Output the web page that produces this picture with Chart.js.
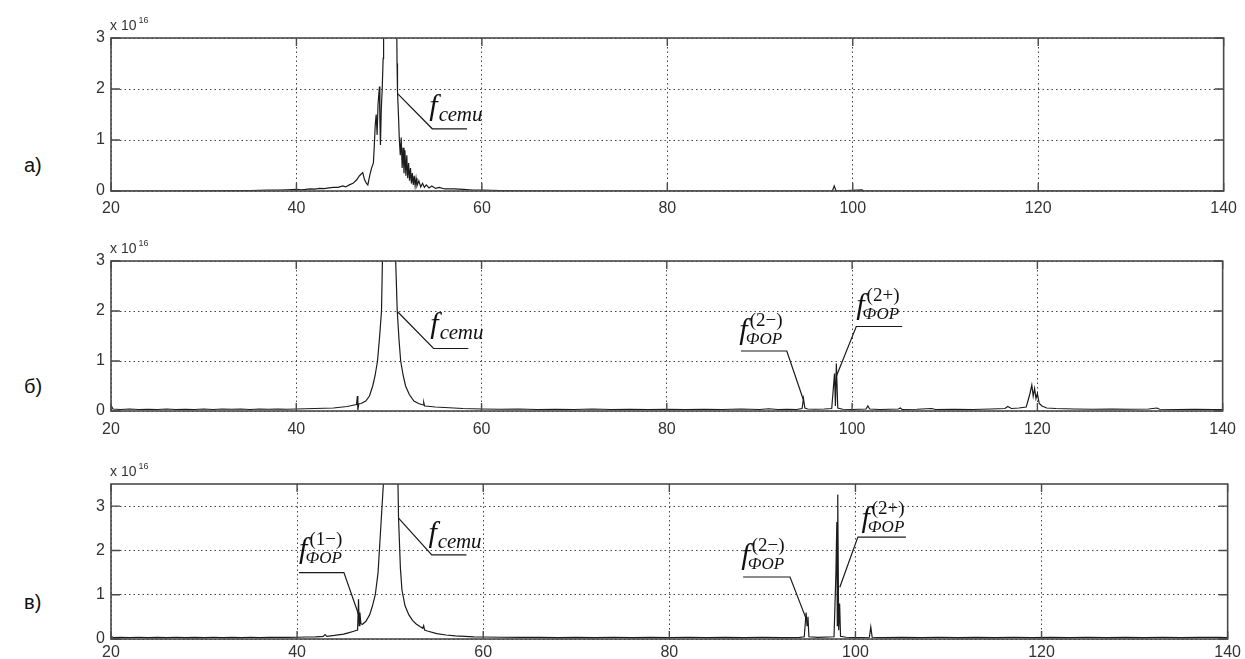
<!DOCTYPE html>
<html>
<head>
<meta charset="utf-8">
<script src="https://cdn.jsdelivr.net/npm/chart.js@4.4.0/dist/chart.umd.min.js"></script>
<style>
  html, body { margin: 0; padding: 0; background: #fff; }
  body { width: 1245px; height: 659px; position: relative; overflow: hidden; }
  canvas { position: absolute; left: 0; }
  .tag { position: absolute; left: 24px; font: 20px "Liberation Sans", Arial, sans-serif; color: #111; }
</style>
</head>
<body>
<div class="tag" style="top:154px">а)</div>
<div class="tag" style="top:375px">б)</div>
<div class="tag" style="top:591px">в)</div>
<canvas id="chartA" width="1245" height="221" style="top:0"></canvas>
<canvas id="chartB" width="1245" height="216" style="top:225px"></canvas>
<canvas id="chartC" width="1245" height="214" style="top:445px"></canvas>
<script>
// spectra, amplitude in units of 1e16, pairs [frequency, amplitude]
var spectrumA = [
  [20,0],[25,0],[30,0.005],[35,0.01],[37,0.02],[38,0.02],[39,0.025],[40,0.03],[40.5,0.025],[41,0.03],
  [41.5,0.04],[42,0.035],[42.5,0.05],[43,0.045],[43.5,0.06],[44,0.07],[44.5,0.07],[45,0.1],[45.3,0.08],
  [45.7,0.12],[46.1,0.15],[46.5,0.22],[46.8,0.3],[47.15,0.36],[47.35,0.22],[47.55,0.15],[47.7,0.12],
  [47.9,0.3],[48.1,0.45],[48.3,0.55],[48.4,0.9],[48.5,1.3],[48.6,1.5],[48.7,1.1],[48.8,1.7],[48.95,2.05],
  [49.0,1.4],[49.06,0.9],[49.15,1.6],[49.25,2.0],[49.35,2.6],[49.4,3.1],[49.7,12],[50.1,30],[50.5,12],
  [50.8,3.6],[50.85,2.5],[50.9,1.95],[51.0,1.5],[51.1,1.0],[51.2,0.7],[51.3,1.05],[51.4,0.45],[51.5,0.85],
  [51.6,0.35],[51.7,0.8],[51.8,0.3],[51.9,0.7],[52.0,0.25],[52.1,0.55],[52.2,0.2],[52.3,0.45],[52.4,0.15],
  [52.5,0.35],[52.6,0.12],[52.7,0.3],[52.8,0.1],[52.9,0.25],[53.0,0.1],[53.2,0.2],[53.4,0.08],[53.6,0.15],
  [53.8,0.07],[54.0,0.12],[54.3,0.06],[54.6,0.1],[55.0,0.05],[55.4,0.07],[56,0.04],[57,0.04],[58,0.03],
  [59,0.02],[60,0.02],[61,0.015],[62,0.01],[64,0.005],[70,0],[90,0],[97.8,0],[98,0.1],[98.2,0],
  [101,0.02],[101.2,0],[140,0]
];
var spectrumB = [
  [20,0.12],[20.2,0.04],[21,0.03],[22,0.04],[23,0.03],[24,0.035],[25,0.03],[26,0.04],[27,0.03],[28,0.035],
  [29,0.03],[30,0.04],[31,0.03],[32,0.04],[33,0.035],[34,0.04],[35,0.03],[36,0.04],[37,0.035],[38,0.04],
  [39,0.035],[40,0.04],[41,0.045],[42,0.05],[43,0.055],[44,0.06],[45,0.08],[45.5,0.09],[46,0.11],
  [46.5,0.13],[46.6,0.3],[46.65,0.02],[46.75,0.14],[47.0,0.15],[47.5,0.2],[47.9,0.3],[48.25,0.5],
  [48.5,0.7],[48.77,1.0],[49.0,1.5],[49.2,2.0],[49.3,3.0],[49.6,8],[50.0,25],[50.45,8],[50.73,3.0],
  [50.9,2.0],[51.1,1.4],[51.27,1.0],[51.55,0.7],[51.8,0.5],[52.2,0.33],[52.7,0.2],[53.2,0.15],[53.7,0.12],
  [53.76,0.17],[53.85,0.1],[54.5,0.09],[55,0.08],[56,0.07],[57,0.06],[58,0.05],[59,0.045],[60,0.04],
  [62,0.035],[64,0.04],[66,0.03],[68,0.035],[70,0.03],[72,0.04],[74,0.03],[76,0.035],[78,0.03],[80,0.035],
  [82,0.03],[84,0.035],[86,0.03],[88,0.04],[90,0.03],[91,0.045],[92,0.03],[93,0.035],[94,0.03],
  [94.6,0.05],[94.75,0.25],[94.9,0.06],[95.2,0.04],[96,0.035],[97,0.04],[97.8,0.05],[98.1,0.75],
  [98.2,0.1],[98.3,0.95],[98.45,0.06],[99,0.035],[100,0.03],[101.5,0.04],[101.7,0.1],[101.9,0.04],
  [103,0.03],[105,0.04],[105.2,0.06],[105.4,0.03],[107,0.035],[108.6,0.05],[109,0.03],[111,0.035],
  [113,0.03],[115,0.04],[116.5,0.05],[116.8,0.09],[117.2,0.05],[118,0.06],[118.8,0.08],[119.2,0.35],
  [119.4,0.52],[119.55,0.3],[119.7,0.45],[119.85,0.25],[120.0,0.35],[120.2,0.15],[120.5,0.1],[121,0.06],
  [122,0.05],[124,0.04],[126,0.035],[128,0.04],[130,0.035],[132,0.04],[132.9,0.06],[133.2,0.035],
  [135,0.03],[137,0.035],[139,0.03],[140,0.03]
];
var spectrumC = [
  [20,0.06],[20.3,0.03],[21,0.035],[22,0.03],[23,0.04],[24,0.03],[25,0.035],[26,0.03],[27,0.04],[28,0.03],
  [29,0.035],[30,0.03],[31,0.04],[32,0.03],[33,0.035],[34,0.03],[35,0.04],[36,0.03],[37,0.035],[38,0.04],
  [39,0.035],[40,0.04],[41,0.045],[42,0.05],[42.8,0.06],[43,0.1],[43.2,0.06],[44,0.08],[45,0.11],
  [45.5,0.14],[46,0.17],[46.5,0.2],[46.6,0.9],[46.67,0.3],[46.75,0.6],[46.85,0.35],[47,0.33],[47.4,0.4],
  [47.8,0.55],[48.1,0.75],[48.4,1.0],[48.7,1.5],[48.9,2.2],[49.1,2.9],[49.3,3.6],[49.6,10],[50.05,30],
  [50.5,10],[50.84,3.5],[50.9,2.73],[51.1,1.6],[51.27,1.1],[51.6,0.75],[52,0.55],[52.4,0.42],[52.8,0.34],
  [53.2,0.28],[53.5,0.24],[53.6,0.3],[53.7,0.2],[54,0.18],[55,0.12],[56,0.09],[57,0.07],[58,0.06],
  [59,0.05],[60,0.045],[62,0.04],[64,0.035],[66,0.04],[68,0.03],[70,0.035],[72,0.03],[74,0.04],[76,0.03],
  [78,0.035],[80,0.03],[82,0.04],[84,0.03],[86,0.035],[88,0.03],[90,0.04],[92,0.03],[94,0.035],
  [94.5,0.05],[94.7,0.6],[94.8,0.3],[94.9,0.5],[95,0.05],[96,0.035],[97.7,0.05],[97.9,1.47],[98,2.64],
  [98.05,0.3],[98.1,3.26],[98.2,0.2],[98.3,0.8],[98.4,0.06],[99,0.04],[100,0.03],[101.5,0.04],
  [101.65,0.27],[101.8,0.04],[103,0.03],[105,0.035],[107,0.03],[109,0.04],[111,0.03],[113,0.035],
  [115,0.03],[117,0.04],[119,0.03],[121,0.035],[123,0.03],[125,0.04],[127,0.03],[129,0.035],[131,0.03],
  [133,0.04],[135,0.03],[137,0.035],[139,0.04],[140,0.03]
];

var freqTicks = [20, 40, 60, 80, 100, 120, 140];
var ampTicks = [0, 1, 2, 3];

// annotation anchors in data units: f baseline + leader polyline
var notesA = [
  { x: 54.33, y: 1.5, sub: 'сети', leader: [[50.91, 1.91], [54.65, 1.22], [58.4, 1.22]] }
];
var notesB = [
  { x: 54.47, y: 1.56, sub: 'сети', leader: [[50.97, 1.98], [54.82, 1.25], [58.57, 1.25]] },
  { x: 87.83, y: 1.45, sup: '(2−)', sub: 'ФОР', leader: [[94.73, 0.23], [92.95, 1.2], [88.0, 1.2]] },
  { x: 100.45, y: 1.94, sup: '(2+)', sub: 'ФОР', leader: [[98.29, 0.69], [100.45, 1.69], [105.4, 1.69]] }
];
var notesC = [
  { x: 54.12, y: 2.18, sub: 'сети', leader: [[50.9, 2.73], [54.47, 1.9], [58.2, 1.9]] },
  { x: 40.21, y: 1.83, sup: '(1−)', sub: 'ФОР', leader: [[46.81, 0.43], [45.03, 1.5], [40.2, 1.5]] },
  { x: 87.74, y: 1.7, sup: '(2−)', sub: 'ФОР', leader: [[94.77, 0.42], [92.97, 1.4], [87.93, 1.4]] },
  { x: 100.64, y: 2.54, sup: '(2+)', sub: 'ФОР', leader: [[98.32, 1.17], [100.26, 2.3], [105.42, 2.3]] }
];

var tickFont = { family: '"Liberation Sans Narrow", "Arial Narrow", "Liberation Sans", sans-serif', size: 16 };
var tickColor = '#333';

function drawNote(ctx, xs, ys, n) {
    var px = xs.getPixelForValue(n.x), py = ys.getPixelForValue(n.y);
    ctx.fillStyle = '#111';
    ctx.textAlign = 'left';
    ctx.textBaseline = 'alphabetic';
    ctx.font = 'italic 30px "Liberation Serif", serif';
    ctx.fillText('f', px, py);
    var fw = ctx.measureText('f').width;
    if (n.sup) {
        ctx.font = '19px "Liberation Serif", serif';
        ctx.fillText(n.sup, px + fw + 2, py - 13);
        ctx.font = 'italic 17px "Liberation Serif", serif';
        ctx.fillText(n.sub, px + fw - 2, py + 5);
    } else {
        ctx.font = 'italic 21px "Liberation Serif", serif';
        ctx.fillText(n.sub, px + fw + 1, py + 6);
    }
    // leader line
    ctx.strokeStyle = '#1a1a1a';
    ctx.lineWidth = 1.2;
    ctx.beginPath();
    n.leader.forEach(function(p, i) {
        var lx = xs.getPixelForValue(p[0]), ly = ys.getPixelForValue(p[1]);
        if (i === 0) ctx.moveTo(lx, ly); else ctx.lineTo(lx, ly);
    });
    ctx.stroke();
}

var framePlugin = {
    id: 'frame',
    afterDraw: function(chart, args, opts) {
        var ctx = chart.ctx, a = chart.chartArea;
        var xs = chart.scales.x, ys = chart.scales.y;
        ctx.save();
        // box
        ctx.strokeStyle = '#4a4a4a';
        ctx.lineWidth = 1.6;
        ctx.strokeRect(a.left, a.top, a.right - a.left, a.bottom - a.top);
        // inward tick marks, matlab style
        ctx.lineWidth = 1.4;
        ctx.beginPath();
        freqTicks.forEach(function(v) {
            var px = xs.getPixelForValue(v);
            ctx.moveTo(px, a.bottom); ctx.lineTo(px, a.bottom - 8);
            ctx.moveTo(px, a.top); ctx.lineTo(px, a.top + 8);
        });
        ampTicks.forEach(function(v) {
            var py = ys.getPixelForValue(v);
            ctx.moveTo(a.left, py); ctx.lineTo(a.left + 9, py);
            ctx.moveTo(a.right, py); ctx.lineTo(a.right - 9, py);
        });
        ctx.stroke();
        // exponent label
        ctx.fillStyle = tickColor;
        ctx.textAlign = 'left';
        ctx.textBaseline = 'alphabetic';
        ctx.font = '14px ' + tickFont.family;
        ctx.fillText('x 10', a.left - 1, a.top - 8);
        var w = ctx.measureText('x 10').width;
        ctx.font = '9px ' + tickFont.family;
        ctx.fillText('16', a.left + w + 1, a.top - 15);
        // annotations
        (opts.notes || []).forEach(function(n) { drawNote(ctx, xs, ys, n); });
        ctx.restore();
    }
};

function buildChart(id, points, yMax, padTop, axisH, labelPad, notes) {
    return new Chart(document.getElementById(id), {
        type: 'line',
        data: {
            datasets: [{
                data: points.map(function(p) { return { x: p[0], y: p[1] }; }),
                borderColor: '#1c1c1c',
                borderWidth: 1.2,
                pointRadius: 0,
                tension: 0,
                fill: false
            }]
        },
        options: {
            responsive: false,
            animation: false,
            events: [],
            layout: { padding: { top: padTop, right: 12, left: 0, bottom: 0 } },
            plugins: {
                legend: { display: false },
                tooltip: { enabled: false },
                frame: { notes: notes }
            },
            scales: {
                x: {
                    type: 'linear',
                    min: 20,
                    max: 140,
                    afterBuildTicks: function(s) { s.ticks = freqTicks.map(function(v) { return { value: v }; }); },
                    afterFit: function(s) { s.height = axisH; },
                    ticks: { padding: labelPad, color: tickColor, font: tickFont, maxRotation: 0 },
                    grid: { color: '#444', lineWidth: 1, drawTicks: false },
                    border: { display: false, dash: [1.5, 3] }
                },
                y: {
                    type: 'linear',
                    min: 0,
                    max: yMax,
                    afterBuildTicks: function(s) { s.ticks = ampTicks.map(function(v) { return { value: v }; }); },
                    afterFit: function(s) { s.width = 111; },
                    ticks: { padding: 6, color: tickColor, font: tickFont },
                    grid: { color: '#444', lineWidth: 1, drawTicks: false },
                    border: { display: false, dash: [1.5, 3] }
                }
            }
        },
        plugins: [framePlugin]
    });
}

buildChart('chartA', spectrumA, 3, 38, 30, 8, notesA);
buildChart('chartB', spectrumB, 3, 36, 30, 9, notesB);
buildChart('chartC', spectrumC, 3.5, 39, 20, 4, notesC);
</script>
</body>
</html>
